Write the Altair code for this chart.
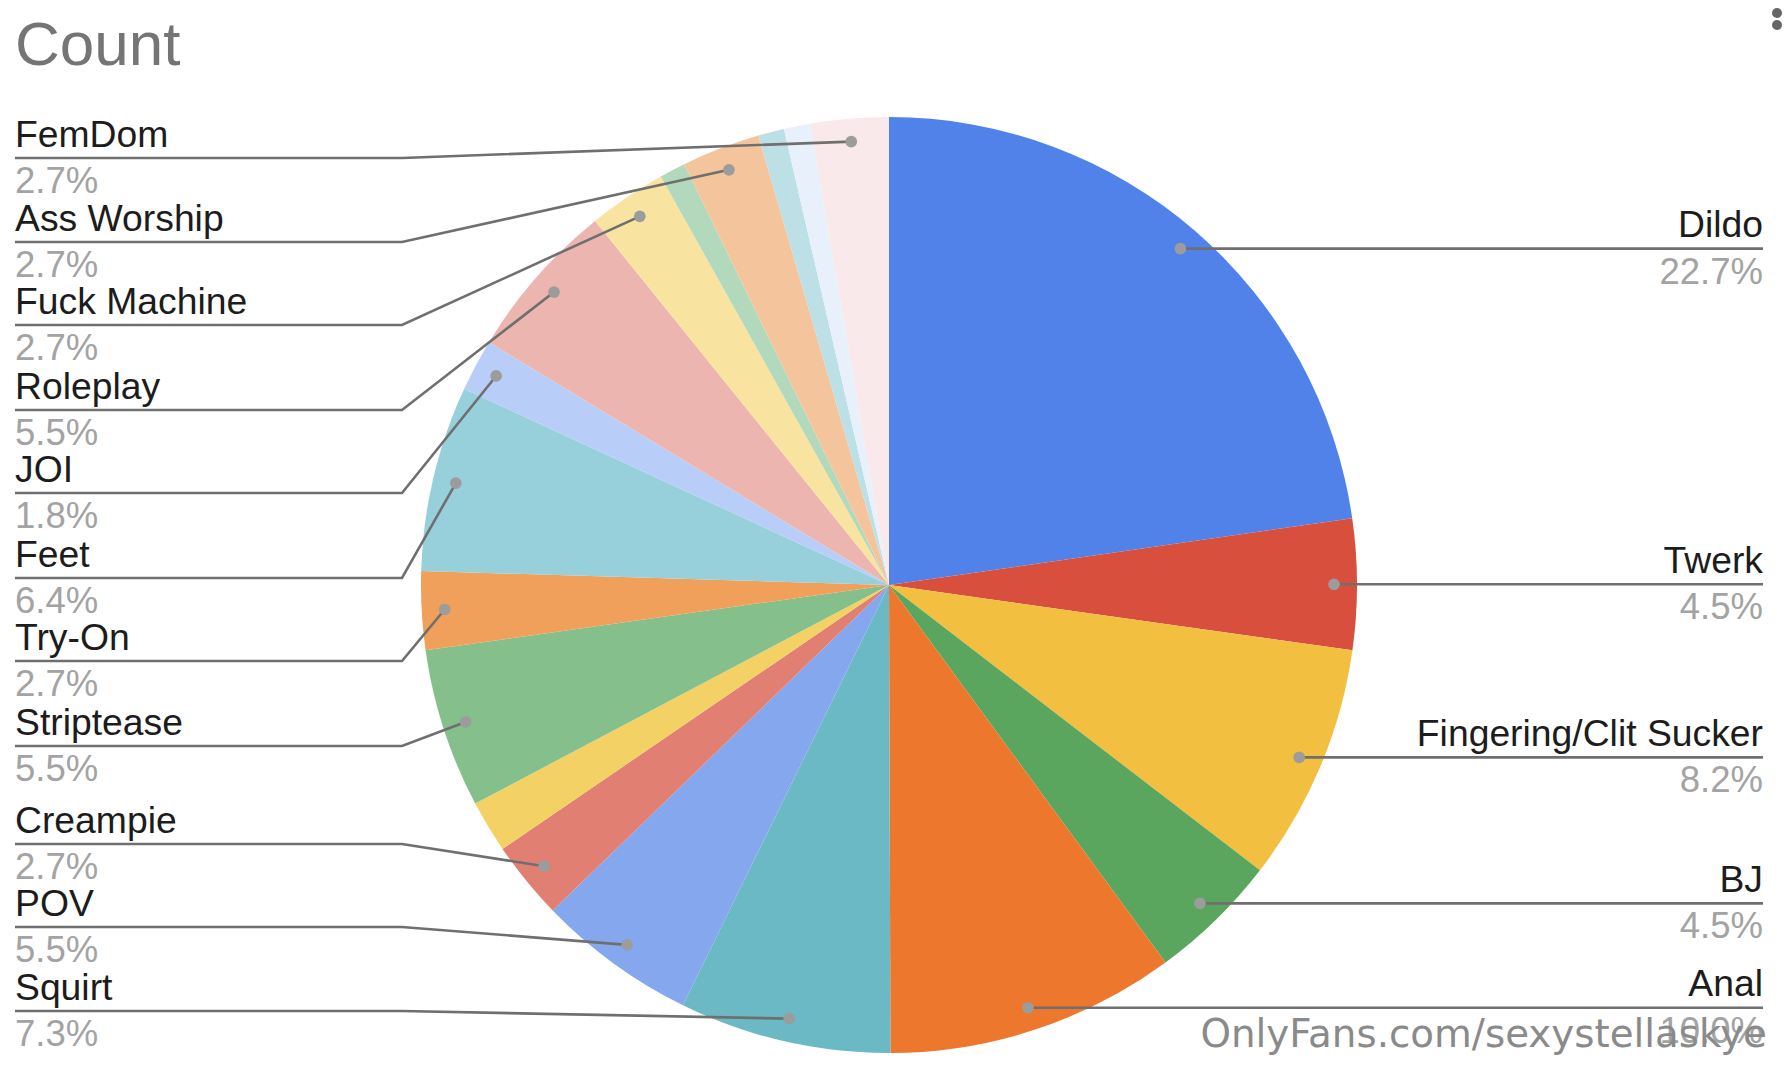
import math

import altair as alt
import pandas as pd

# slices, clockwise from 12 o'clock. Three thin ones carry no label in the picture
names = ["Dildo", "Twerk", "Fingering/Clit Sucker", "BJ", "Anal", "Squirt", "POV",
         "Creampie", "", "Striptease", "Try-On", "Feet", "JOI", "Roleplay",
         "Fuck Machine", "", "Ass Worship", "", "", "FemDom"]
shares = [22.7, 4.5, 8.2, 4.5, 10.0, 7.3, 5.5, 2.7, 1.8, 5.5, 2.7, 6.4, 1.8, 5.5,
          2.7, 0.9, 2.7, 0.9, 0.9, 2.7]
colours = ["#5082ea", "#d8503d", "#f2bf40", "#5aa65e", "#ed772c", "#6ab9c4", "#85a7ee",
           "#e07f72", "#f3d165", "#85bf8b", "#f0a05b", "#97d0da", "#b8cdf8", "#edb5b0",
           "#f8e3a0", "#b3d9bc", "#f4c49c", "#bde0e6", "#e8f0fc", "#f9e9ea"]

# layout of the left label column, top to bottom
left_order = ["FemDom", "Ass Worship", "Fuck Machine", "Roleplay", "JOI", "Feet",
              "Try-On", "Striptease", "Creampie", "POV", "Squirt"]
left_rows = [158, 242, 325, 410, 493, 578, 661, 746, 844, 927, 1011]
right_order = ["Dildo", "Twerk", "Fingering/Clit Sucker", "BJ", "Anal"]

W, H = 1775, 1060
CX, CY, R = 889, 585, 468
DOT_R = 445
LEFT, ELBOW, RIGHT = 15, 402, 1763

slices = pd.DataFrame({"name": names, "share": shares, "colour": colours})
slices["idx"] = range(len(slices))
slices["pct"] = slices["share"].map(lambda v: f"{v:.1f}%")

# where each leader line lands inside its slice
mid = (slices["share"].cumsum() - slices["share"] / 2) / slices["share"].sum() * 2 * math.pi
slices["dot_x"] = CX + DOT_R * mid.map(math.sin)
slices["dot_y"] = CY - DOT_R * mid.map(math.cos)
by_name = slices[slices["name"] != ""].set_index("name")

labels = []
lines = []
for name, row_y in zip(left_order, left_rows):
    s = by_name.loc[name]
    labels.append({"name": name, "pct": s["pct"], "x": LEFT, "y": row_y, "side": "left"})
    lines += [
        {"name": name, "step": 0, "x": LEFT, "y": row_y},
        {"name": name, "step": 1, "x": ELBOW, "y": row_y},
        {"name": name, "step": 2, "x": s["dot_x"], "y": s["dot_y"]},
    ]
for name in right_order:
    s = by_name.loc[name]
    labels.append({"name": name, "pct": s["pct"], "x": RIGHT, "y": s["dot_y"], "side": "right"})
    lines += [
        {"name": name, "step": 0, "x": RIGHT, "y": s["dot_y"]},
        {"name": name, "step": 1, "x": s["dot_x"], "y": s["dot_y"]},
    ]
labels = pd.DataFrame(labels)
lines = pd.DataFrame(lines)

# picture pixels as the data space, shifted by the 8px page margin
x_enc = alt.X("x:Q", scale=alt.Scale(domain=[8, 8 + W]), axis=None)
y_enc = alt.Y("y:Q", scale=alt.Scale(domain=[8 + H, 8]), axis=None)

pie = (
    alt.Chart(slices)
    .mark_arc(radius=R)
    .encode(
        theta=alt.Theta("share:Q", stack=True),
        order=alt.Order("idx:Q"),
        color=alt.Color("colour:N", scale=None),
        x=alt.value(CX - 8),
        y=alt.value(CY - 8),
    )
)

leaders = (
    alt.Chart(lines)
    .mark_line(color="#6f6f6f", strokeWidth=2.6)
    .encode(x=x_enc, y=y_enc, detail="name:N", order="step:Q")
)

dots = (
    alt.Chart(by_name.reset_index())
    .mark_circle(size=137, color="#9c9c9c", opacity=1)
    .encode(x=alt.X("dot_x:Q", scale=alt.Scale(domain=[8, 8 + W]), axis=None),
            y=alt.Y("dot_y:Q", scale=alt.Scale(domain=[8 + H, 8]), axis=None))
)


def label_layer(side, align):
    part = labels[labels["side"] == side]
    base = alt.Chart(part).encode(x=x_enc, y=y_enc)
    top = base.mark_text(align=align, baseline="alphabetic", dy=-11.5, font="Liberation Sans",
                         fontSize=37.3, color="#1c1c1c").encode(text="name:N")
    bottom = base.mark_text(align=align, baseline="alphabetic", dy=35, font="Liberation Sans",
                            fontSize=36.5, color="#a3a3a3").encode(text="pct:N")
    return top + bottom


title = (
    alt.Chart(pd.DataFrame({"x": [15], "y": [65], "t": ["Count"]}))
    .mark_text(align="left", baseline="alphabetic", font="Liberation Sans", fontSize=62, color="#757575")
    .encode(x=x_enc, y=y_enc, text="t:N")
)

watermark = (
    alt.Chart(pd.DataFrame({"x": [1767], "y": [1047], "t": ["OnlyFans.com/sexystellaskye"]}))
    .mark_text(align="right", baseline="alphabetic", font="DejaVu Sans", fontSize=38.8, color="#8a8a8a")
    .encode(x=x_enc, y=y_enc, text="t:N")
)

# the top dot is cut by the picture edge in the reference; the page margin stops it here
menu = (
    alt.Chart(pd.DataFrame({"x": [1777, 1777], "y": [13, 25]}))
    .mark_circle(size=100, color="#666666", opacity=1)
    .encode(x=x_enc, y=y_enc)
)

chart = (
    alt.layer(pie, leaders, dots, label_layer("left", "left"), label_layer("right", "right"),
              title, watermark, menu)
    .resolve_scale(color="independent")
    .properties(width=W, height=H, padding=0, background="white")
    .configure_view(stroke=None)
)

chart.save("out.html", embed_options={"renderer": "svg", "actions": False})
